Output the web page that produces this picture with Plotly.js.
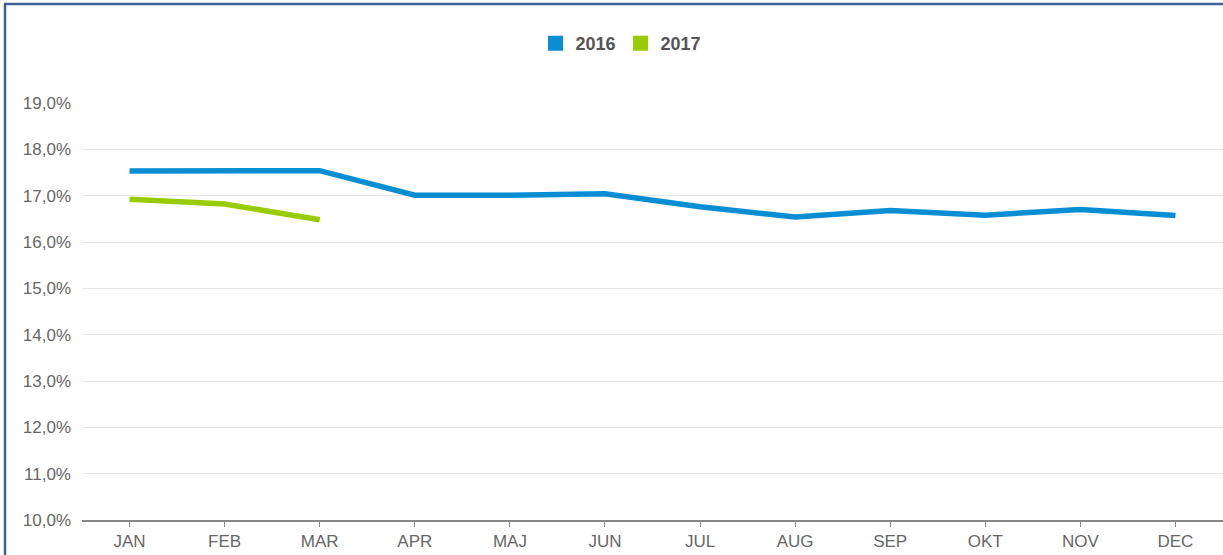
<!DOCTYPE html>
<html>
<head>
<meta charset="utf-8">
<script src="https://cdn.plot.ly/plotly-3.0.1.min.js"></script>
<style>html,body{margin:0;padding:0;background:#fff;}#chart{width:1223px;height:555px;}</style>
</head>
<body>
<div id="chart"></div>
<script>
const months = ["JAN","FEB","MAR","APR","MAJ","JUN","JUL","AUG","SEP","OKT","NOV","DEC"];
const values2016 = [17.53, 17.53, 17.54, 17.01, 17.01, 17.04, 16.76, 16.54, 16.68, 16.58, 16.70, 16.57];
const months2017 = ["JAN","FEB","MAR"];
const values2017 = [16.92, 16.82, 16.48];
const seriesNames = ["2016", "2017"];
const seriesColors = ["#0A8ED3", "#99CC00"];

const traces = [
  {x: months, y: values2016, type: "scatter", mode: "lines", name: seriesNames[0],
   line: {color: seriesColors[0], width: 5.5}, showlegend: false, hoverinfo: "x+y"},
  {x: months2017, y: values2017, type: "scatter", mode: "lines", name: seriesNames[1],
   line: {color: seriesColors[1], width: 5.5}, showlegend: false, hoverinfo: "x+y"},
  {x: [null], y: [null], type: "scatter", mode: "markers", name: seriesNames[0],
   marker: {symbol: "square", size: 15, color: seriesColors[0]}},
  {x: [null], y: [null], type: "scatter", mode: "markers", name: seriesNames[1],
   marker: {symbol: "square", size: 15, color: seriesColors[1]}}
];

const W = 1141, H = 417, L = 82, B = 35;
function px(x){ return (x - L) / W; }
function py(y){ return (555 - B - y) / H; }

const layout = {
  width: 1223, height: 555,
  margin: {l: L, r: 0, t: 103, b: B},
  paper_bgcolor: "#ffffff", plot_bgcolor: "#ffffff",
  font: {family: "Liberation Sans, Arial, sans-serif", size: 17, color: "#666666"},
  separators: ",.",
  showlegend: true,
  legend: {orientation: "h", x: px(621), xanchor: "center", y: py(43.5), yanchor: "middle",
    font: {family: "Liberation Sans, Arial, sans-serif", size: 18, color: "#555555", weight: "bold"},
    itemwidth: 30, tracegroupgap: 0},
  xaxis: {type: "category", categoryorder: "array", categoryarray: months,
    range: [-0.5, 11.5], showgrid: false, zeroline: false,
    showline: true, linecolor: "#888888", linewidth: 1.5,
    ticks: "outside", ticklen: 5, tickcolor: "#888888", tickwidth: 1,
    tickfont: {size: 17, color: "#666666"}, fixedrange: true},
  yaxis: {range: [10, 19], dtick: 1, tick0: 10, tickformat: ".1f", ticksuffix: "%",
    showgrid: true, gridcolor: "#e6e6e6", gridwidth: 1, zeroline: false,
    showline: false, ticks: "", ticklabelstandoff: 10,
    tickfont: {size: 17, color: "#666666"}, fixedrange: true},
  shapes: [
    {type: "line", xref: "paper", yref: "paper", x0: px(5), x1: px(5), y0: py(560), y1: py(4),
     line: {color: "#3B6398", width: 2.5}},
    {type: "line", xref: "paper", yref: "paper", x0: px(4), x1: px(1230), y0: py(4), y1: py(4),
     line: {color: "#3B6398", width: 2.5}}
  ]
};

Plotly.newPlot("chart", traces, layout, {displayModeBar: false, staticPlot: true});
</script>
</body>
</html>
